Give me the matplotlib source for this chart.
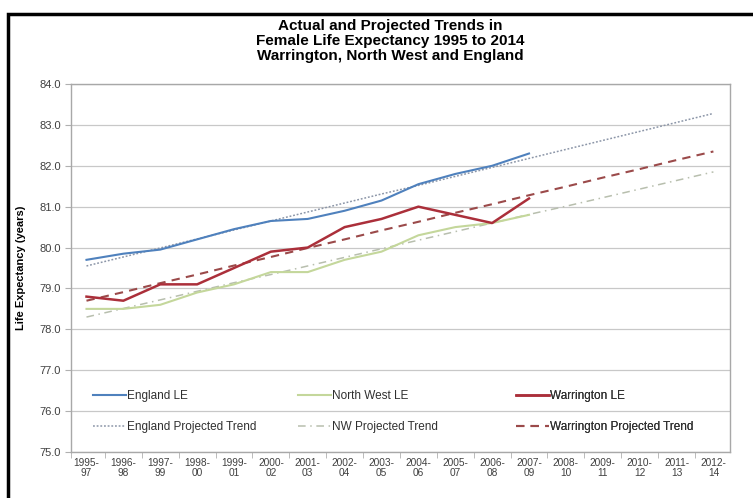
import matplotlib
matplotlib.use("Agg")
import matplotlib.pyplot as plt
from matplotlib.patches import Rectangle

plt.rcParams['font.family'] = ['Liberation Sans', 'DejaVu Sans']

periods = ["1995-\n97", "1996-\n98", "1997-\n99", "1998-\n00", "1999-\n01", "2000-\n02",
           "2001-\n03", "2002-\n04", "2003-\n05", "2004-\n06", "2005-\n07", "2006-\n08",
           "2007-\n09", "2008-\n10", "2009-\n11", "2010-\n12", "2011-\n13", "2012-\n14"]

england_le = [79.7, 79.85, 79.95, 80.2, 80.45, 80.65, 80.7, 80.9, 81.15, 81.55, 81.8, 82.0, 82.3]
northwest_le = [78.5, 78.5, 78.6, 78.9, 79.1, 79.4, 79.4, 79.7, 79.9, 80.3, 80.5, 80.6, 80.8]
warrington_le = [78.8, 78.7, 79.1, 79.1, 79.5, 79.9, 80.0, 80.5, 80.7, 81.0, 80.8, 80.6, 81.2]

england_trend = [79.55, 79.77, 79.99, 80.21, 80.43, 80.65, 80.87, 81.09, 81.31, 81.52,
                 81.74, 81.96, 82.18, 82.40, 82.62, 82.84, 83.06, 83.28]
northwest_trend = [78.30, 78.51, 78.72, 78.93, 79.14, 79.34, 79.55, 79.76, 79.97, 80.18,
                   80.39, 80.60, 80.81, 81.01, 81.22, 81.43, 81.64, 81.85]
warrington_trend = [78.70, 78.91, 79.13, 79.34, 79.56, 79.77, 79.99, 80.20, 80.42, 80.63,
                    80.85, 81.06, 81.28, 81.49, 81.71, 81.92, 82.14, 82.35]

y_ticks = [75.0, 76.0, 77.0, 78.0, 79.0, 80.0, 81.0, 82.0, 83.0, 84.0]

fig = plt.figure(figsize=(7.53, 4.98), dpi=100)
ax = fig.add_axes([71 / 753, 1 - 452 / 498, (730 - 71) / 753, (452 - 84) / 498])

# outer chart frame
fig.patches.append(Rectangle((8 / 753, -0.05), 1.1, 1 - 14 / 498 + 0.05,
                             transform=fig.transFigure, fill=False,
                             edgecolor='black', linewidth=2.5, zorder=10))

x_all = list(range(len(periods)))
x_act = x_all[:len(england_le)]

c_eng = '#4f81bd'
c_nw = '#c4d79b'
c_war = '#ab2f3a'

l_eng, = ax.plot(x_act, england_le, color=c_eng, lw=1.5, label='England LE', zorder=4)
l_nw, = ax.plot(x_act, northwest_le, color=c_nw, lw=1.5, label='North West LE', zorder=4)
l_war, = ax.plot(x_act, warrington_le, color=c_war, lw=1.8, label='Warrington LE', zorder=5)

t_eng, = ax.plot(x_all, england_trend, color='#8c96a8', lw=1.1, ls=(0, (1.2, 1.2)),
                 label='England Projected Trend', zorder=3)
t_nw, = ax.plot(x_all, northwest_trend, color='#b8bfae', lw=1.1, ls=(0, (5, 3, 1, 3)),
                label='NW Projected Trend', zorder=3)
t_war, = ax.plot(x_all, warrington_trend, color='#9b4a4a', lw=1.5, ls=(0, (4, 3)),
                 label='Warrington Projected Trend', zorder=3)

ax.set_xlim(-0.42, 17.45)
ax.set_ylim(75, 84)
ax.set_yticks(y_ticks)
ax.set_yticklabels([f"{v:.1f}" for v in y_ticks], fontsize=8, color='#404040')
ax.set_xticks(x_all)
ax.set_xticklabels(periods, fontsize=7.3, color='#404040', linespacing=1.0)
ax.set_xticks([i + 0.5 for i in x_all[:-1]] + [-0.42], minor=True)
ax.tick_params(axis='x', which='major', length=0, pad=4)
ax.tick_params(axis='x', which='minor', length=4, color='#b0b0b0', direction='out')
ax.tick_params(axis='y', length=4, color='#b0b0b0', direction='out', pad=3)

ax.grid(axis='y', color='#c8c8c8', lw=0.9)
ax.set_axisbelow(True)
for s in ax.spines.values():
    s.set_color('#a8a8a8')
    s.set_linewidth(1.0)

ax.set_ylabel('Life Expectancy (years)', fontsize=8, fontweight='bold')
ax.yaxis.set_label_coords(-0.068, 0.5)

fig.text(390 / 753, 1 - 41 / 498,
         'Actual and Projected Trends in\nFemale Life Expectancy 1995 to 2014\nWarrington, North West and England',
         ha='center', va='center', fontsize=11, fontweight='bold', linespacing=1.08)

# three legend columns, each with the actual line above its trend line
cols = [([l_eng, t_eng], 93), ([l_nw, t_nw], 298), ([l_war, t_war], 516)]
for handles, px in cols:
    leg = ax.legend(handles=handles, loc='upper left',
                    bbox_to_anchor=((px - 71) / (730 - 71), (452 - 390) / (452 - 84)),
                    frameon=False, fontsize=8.5, handlelength=2.8, handletextpad=0.1,
                    labelspacing=1.65, borderaxespad=0, borderpad=0, labelcolor='#303030')
    ax.add_artist(leg)

fig.savefig('out.png', dpi=100)
